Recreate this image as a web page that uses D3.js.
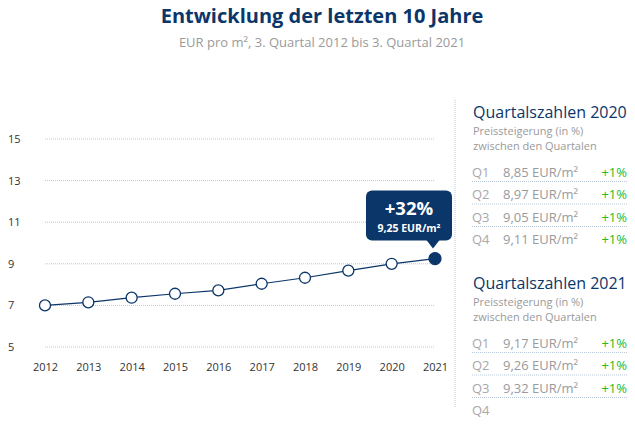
<!DOCTYPE html>
<html>
<head>
<meta charset="utf-8">
<script src="https://cdn.jsdelivr.net/npm/d3@7"></script>
<style>
  body { margin: 0; background: #fff; }
  svg { font-family: "Open Sans", sans-serif; }
</style>
</head>
<body>
<svg id="chart" width="635" height="429"></svg>
<script>
const years = [2012, 2013, 2014, 2015, 2016, 2017, 2018, 2019, 2020, 2021];
const prices = [7.0, 7.15, 7.37, 7.56, 7.72, 8.04, 8.33, 8.67, 9.0, 9.25];
const yTicks = [5, 7, 9, 11, 13, 15];

const quarters = ['Q1', 'Q2', 'Q3', 'Q4'];
const values2020 = ['8,85 EUR/m²', '8,97 EUR/m²', '9,05 EUR/m²', '9,11 EUR/m²'];
const change2020 = ['+1%', '+1%', '+1%', '+1%'];
const values2021 = ['9,17 EUR/m²', '9,26 EUR/m²', '9,32 EUR/m²', ''];
const change2021 = ['+1%', '+1%', '+1%', ''];

const navy = '#0b3669';
const svg = d3.select('#chart');

// title
svg.append('text')
  .attr('x', 322).attr('y', 23)
  .attr('text-anchor', 'middle')
  .attr('font-size', 20).attr('font-weight', 700)
  .attr('fill', navy)
  .text('Entwicklung der letzten 10 Jahre');

svg.append('text')
  .attr('x', 322).attr('y', 47)
  .attr('text-anchor', 'middle')
  .attr('font-size', 13)
  .attr('fill', '#9a9a9a')
  .text('EUR pro m², 3. Quartal 2012 bis 3. Quartal 2021');

const xscale = d3.scalePoint()
  .domain(years)
  .range([45, 435])

const yscale = d3.scaleLinear()
  .domain([5, 15])
  .range([347, 139])

// grid
svg.append('g')
  .selectAll('line')
  .data(yTicks)
  .enter()
  .append('line')
  .attr('x1', 45).attr('x2', 435)
  .attr('y1', (d) => yscale(d)).attr('y2', (d) => yscale(d))
  .attr('stroke', '#b9c8d8')
  .attr('stroke-width', 1)
  .attr('stroke-dasharray', '1,1')

const leftAxis = d3.axisLeft(yscale).tickValues(yTicks).tickSize(0)
const gy = svg.append('g')
  .attr('transform', 'translate(8, 0)')
  .call(leftAxis)
gy.select('.domain').remove()
gy.selectAll('text')
  .attr('text-anchor', 'start')
  .attr('x', 0)
  .attr('font-size', 11)
  .attr('font-family', '"Open Sans", sans-serif')
  .attr('fill', '#333')

const bottomAxis = d3.axisBottom(xscale).tickSize(0)
const gx = svg.append('g')
  .attr('transform', 'translate(0, 360)')
  .call(bottomAxis)
gx.select('.domain').remove()
gx.selectAll('text')
  .attr('font-size', 11)
  .attr('font-family', '"Open Sans", sans-serif')
  .attr('fill', '#333')

// line
const points = years.map((y, i) => ({ year: y, value: prices[i] }))
const line = d3.line()
  .x((d) => xscale(d.year))
  .y((d) => yscale(d.value))

svg.append('path')
  .datum(points)
  .attr('d', line)
  .attr('fill', 'none')
  .attr('stroke', navy)
  .attr('stroke-width', 1.2)

svg.append('g')
  .selectAll('circle')
  .data(points)
  .enter()
  .append('circle')
  .attr('cx', (d) => xscale(d.year))
  .attr('cy', (d) => yscale(d.value))
  .attr('r', (d, i) => i === points.length - 1 ? 6 : 5.5)
  .attr('fill', (d, i) => i === points.length - 1 ? navy : '#fff')
  .attr('stroke', navy)
  .attr('stroke-width', 1.3)

// tooltip
const last = points[points.length - 1]
const px = xscale(last.year)
const py = yscale(last.value)
const tip = svg.append('g')
tip.append('rect')
  .attr('x', px - 69).attr('y', py - 68)
  .attr('width', 86).attr('height', 50)
  .attr('rx', 6)
  .attr('fill', navy)
tip.append('path')
  .attr('d', `M${px - 9},${py - 19} L${px + 5},${py - 19} L${px - 2},${py - 10} Z`)
  .attr('fill', navy)
const pct = Math.round((last.value / prices[0] - 1) * 100)
tip.append('text')
  .attr('x', px - 26).attr('y', py - 44)
  .attr('text-anchor', 'middle')
  .attr('font-size', 18.5).attr('font-weight', 700)
  .attr('fill', '#fff')
  .text(`+${pct}%`)
tip.append('text')
  .attr('x', px - 26).attr('y', py - 27)
  .attr('text-anchor', 'middle')
  .attr('font-size', 10.5).attr('font-weight', 700)
  .attr('fill', '#fff')
  .text(`${d3.format('.2f')(last.value).replace('.', ',')} EUR/m²`)

// separator
svg.append('line')
  .attr('x1', 455).attr('x2', 455)
  .attr('y1', 100).attr('y2', 408)
  .attr('stroke', '#b9c8d8')
  .attr('stroke-dasharray', '1,1')

// side panel
function drawBlock(top, year, vals, changes) {
  const g = svg.append('g')
  g.append('text')
    .attr('x', 473).attr('y', top)
    .attr('font-size', 16)
    .attr('fill', navy)
    .text(`Quartalszahlen ${year}`)
  g.append('text')
    .attr('x', 473).attr('y', top + 17)
    .attr('font-size', 11)
    .attr('fill', '#9a9a9a')
    .text('Preissteigerung (in %)')
  g.append('text')
    .attr('x', 473).attr('y', top + 32)
    .attr('font-size', 11)
    .attr('fill', '#9a9a9a')
    .text('zwischen den Quartalen')

  const rows = g.selectAll('.row')
    .data(quarters)
    .enter()
    .append('g')
    .attr('transform', (d, i) => `translate(0, ${top + 58.5 + i * 22.5})`)
  rows.append('text')
    .attr('x', 472)
    .attr('font-size', 13)
    .attr('fill', '#a8a8a8')
    .text((d) => d)
  rows.append('text')
    .attr('x', 503)
    .attr('font-size', 13)
    .attr('fill', '#9a9a9a')
    .text((d, i) => vals[i])
  rows.append('text')
    .attr('x', 627)
    .attr('text-anchor', 'end')
    .attr('font-size', 13)
    .attr('fill', '#22bb22')
    .text((d, i) => changes[i])
  rows.filter((d, i) => i < quarters.length - 1)
    .append('line')
    .attr('x1', 472).attr('x2', 627)
    .attr('y1', 5).attr('y2', 5)
    .attr('stroke', '#b9c8d8')
    .attr('stroke-dasharray', '1,1')
}

drawBlock(118, 2020, values2020, change2020)
drawBlock(289, 2021, values2021, change2021)
</script>
</body>
</html>
